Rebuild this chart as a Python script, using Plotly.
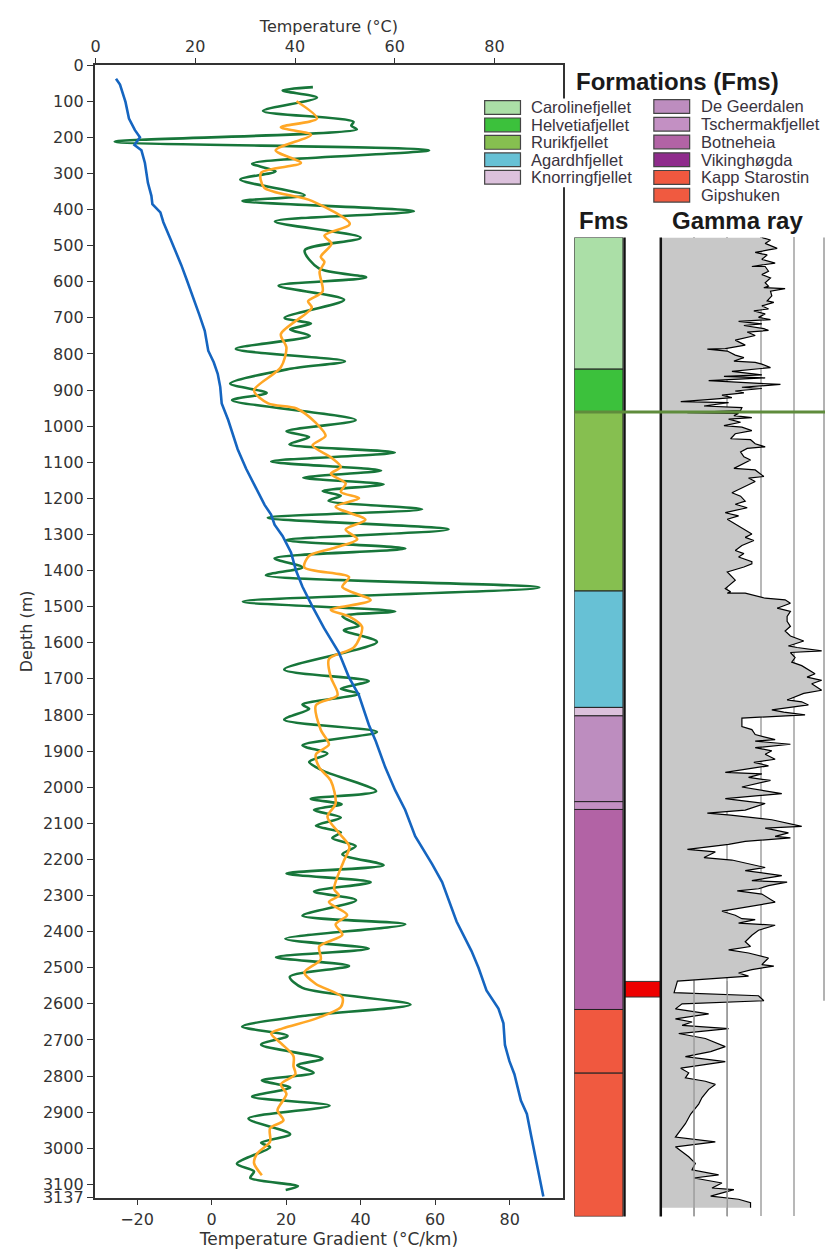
import plotly.graph_objects as go

# ---- temperature log (top axis, deg C) ----
temp_depth = [38, 54, 102, 148, 180, 200, 221, 236, 271, 326, 362, 385, 408, 435, 481, 517,
              554, 595, 636, 691, 736, 791, 823, 855, 891, 937, 983, 1064, 1118, 1173, 1218,
              1245, 1273, 1304, 1350, 1400, 1445, 1500, 1559, 1627, 1695, 1745, 1827, 1873,
              1945, 2009, 2063, 2136, 2213, 2263, 2372, 2454, 2500, 2563, 2613, 2654, 2714,
              2759, 2795, 2868, 2905, 2968, 3032, 3077, 3134]
temp_c = [4.1, 4.9, 6.0, 6.7, 7.9, 8.9, 7.8, 9.2, 9.9, 10.5, 11.2, 11.4, 13.0, 13.6, 15.0, 16.1,
          17.2, 18.3, 19.4, 20.8, 21.9, 22.6, 23.7, 24.5, 25.0, 25.3, 26.6, 28.5, 30.2, 32.2, 33.9,
          35.2, 35.9, 37.5, 39.2, 40.2, 41.5, 43.5, 45.8, 48.8, 50.8, 52.8, 54.8, 56.2,
          58.1, 60.1, 62.1, 64.1, 67.5, 69.5, 72.4, 75.4, 76.8, 78.4, 80.8, 81.8, 82.1,
          83.0, 84.0, 85.3, 86.5, 87.4, 88.3, 88.9, 89.8]

# ---- temperature gradient (bottom axis, deg C/km) ----
grad_depth = [61, 70, 90, 127, 157, 168, 178, 212, 236, 273, 294, 317, 360, 376, 405, 433, 478,
              513, 563, 588, 611, 650, 700, 716, 732, 750, 786, 820, 841, 882, 908, 928, 983,
              1014, 1030, 1050, 1073, 1098, 1123, 1143, 1161, 1180, 1193, 1207, 1230, 1254,
              1286, 1316, 1339, 1366, 1391, 1413, 1447, 1486, 1513, 1527, 1553, 1565, 1598,
              1674, 1706, 1727, 1741, 1771, 1783, 1813, 1847, 1884, 1907, 1930, 1954, 2011,
              2032, 2047, 2063, 2084, 2107, 2125, 2141, 2163, 2186, 2216, 2239, 2263, 2289,
              2313, 2356, 2380, 2420, 2447, 2471, 2495, 2525, 2556, 2602, 2634, 2663, 2689,
              2713, 2752, 2770, 2791, 2812, 2832, 2857, 2882, 2918, 2961, 2985, 2997, 3043,
              3064, 3082, 3105, 3116]
grad = [27.2, 19.1, 28.3, 13.8, 38.1, 37.5, 39.0, -26.0, 58.4, 10.9, 17.2, 7.7, 25.0, 8.3, 54.3,
        17.0, 40.0, 25.0, 28.8, 41.5, 18.0, 35.6, 19.6, 26.7, 21.1, 26.4, 6.5, 35.8, 21.1, 5.0,
        14.8, 5.5, 38.7, 20.1, 26.2, 20.9, 49.2, 16.0, 45.5, 24.6, 46.2, 29.8, 34.7, 31.4, 56.5,
        15.1, 63.6, 20.1, 52.0, 16.9, 24.4, 14.6, 88.0, 8.4, 49.3, 35.1, 39.5, 35.5, 44.4,
        19.5, 42.2, 34.7, 39.6, 24.4, 26.2, 19.5, 44.4, 24.4, 31.1, 26.2, 29.8, 44.2,
        26.6, 34.9, 27.5, 34.7, 28.0, 34.7, 32.4, 38.7, 35.1, 46.2, 20.1, 42.7, 27.5,
        38.8, 24.4, 52.0, 19.8, 42.2, 17.3, 36.9, 21.0, 24.4, 53.4, 24.4, 8.2, 20.4,
        13.3, 29.8, 23.0, 27.4, 13.5, 21.1, 10.9, 31.7, 9.9, 21.1, 13.3, 15.7, 6.8,
        11.4, 10.4, 23.2, 19.9]

# ---- smoothed gradient ----
smooth_depth = [100, 148, 172, 193, 236, 271, 298, 339, 376, 440, 472, 495, 531, 545, 572, 627,
                654, 672, 745, 782, 837, 901, 937, 951, 991, 1027, 1053, 1086, 1113, 1132, 1159,
                1182, 1200, 1223, 1259, 1286, 1313, 1336, 1359, 1391, 1418, 1445, 1482, 1509,
                1527, 1556, 1613, 1645, 1695, 1745, 1773, 1841, 1882, 1909, 1945, 1982, 2045,
                2082, 2127, 2165, 2204, 2282, 2300, 2318, 2354, 2380, 2409, 2441, 2477, 2513,
                2545, 2582, 2609, 2641, 2668, 2682, 2709, 2745, 2773, 2795, 2823, 2850, 2895,
                2923, 2945, 2982, 3014, 3041, 3075]
smooth_grad = [22.8, 28.3, 18.6, 26.7, 17.2, 24.0, 13.3, 14.1, 26.9, 37.1, 30.3, 32.2, 29.3, 30.3,
               29.0, 29.8, 25.9, 26.9, 18.6, 20.1, 18.6, 11.4, 15.2, 22.8, 28.0, 30.6, 27.1, 32.0,
               34.7, 32.0, 36.0, 34.7, 39.6, 33.3, 41.3, 36.0, 39.1, 33.3, 26.2, 24.9, 36.9, 35.1,
               42.7, 32.0, 36.9, 40.4, 38.2, 31.5, 32.0, 33.8, 28.0, 29.3, 31.5, 28.0, 28.9, 32.0,
               33.3, 31.1, 34.2, 37.0, 35.5, 32.9, 34.2, 31.5, 36.4, 33.3, 35.1, 28.9, 29.3, 24.9,
               28.0, 35.1, 34.7, 28.0, 19.1, 16.0, 18.6, 22.0, 22.0, 22.5, 18.6, 20.1, 17.7,
               19.3, 15.7, 15.7, 12.3, 11.4, 13.5]

# ---- gamma ray log (right track, track depth scale) ----
gr_depth = [0, 8, 19, 35, 40, 48, 56, 70, 82, 93, 93, 108, 119, 130, 145, 156, 161, 164, 172, 187,
            203, 208, 219, 229, 235, 245, 256, 263, 269, 277, 282, 292, 298, 303, 314, 322, 329,
            345, 350, 356, 358, 364, 377, 385, 396, 400, 406, 417, 429, 440, 445, 450, 459, 466,
            471, 480, 484, 492, 498, 505, 513, 519, 526, 529, 540, 545, 555, 561, 564,
            571, 577, 582, 592, 603, 608, 619, 629, 645, 648, 661, 671, 676, 687, 703, 713, 740,
            745, 766, 771, 782, 797, 818, 829, 845, 855, 866, 882, 892, 903, 918, 934, 950, 961,
            971, 987, 1003, 1013, 1024, 1039,
            1046, 1056, 1072, 1098, 1125, 1135, 1140, 1140, 1149, 1156, 1161, 1172, 1188, 1198,
            1214, 1230, 1246, 1261, 1277, 1293, 1309, 1314, 1325, 1330, 1346, 1361, 1372, 1398,
            1409, 1419, 1430, 1451, 1461, 1482, 1488, 1498, 1514, 1521, 1530, 1535, 1540, 1567,
            1577, 1593, 1609, 1614, 1624, 1635, 1645, 1656, 1672, 1682, 1693, 1714, 1719, 1730,
            1740, 1761, 1782, 1798, 1814, 1835, 1845, 1851, 1861, 1866, 1887, 1893, 1908, 1919,
            1924, 1935, 1945, 1961, 1969, 1987, 1995, 2019, 2029, 2045, 2061, 2066, 2077, 2087,
            2094, 2104, 2130, 2141, 2159, 2172, 2183, 2186, 2197, 2204, 2220, 2236, 2257, 2272,
            2283, 2293, 2309, 2330, 2335, 2346, 2357, 2367, 2378, 2383, 2420, 2430, 2446, 2456,
            2472, 2488, 2504, 2514, 2525, 2535, 2551, 2567, 2593, 2609, 2625, 2641, 2662, 2677,
            2693, 2704, 2714, 2730, 2756, 2777, 2809, 2840, 2883, 2898, 2914, 2946, 2967, 2988,
            3004, 3014, 3030, 3046, 3051, 3072, 3082, 3093, 3109]
gr_api = [152, 165, 157, 175, 162, 142, 160, 152, 172, 137, 157, 162, 152, 165, 157, 162, 155, 187,
          165, 167, 160, 170, 152, 162, 140, 157, 147, 165, 117, 152, 125, 155, 162, 130, 142, 125,
          112, 127, 110, 97, 70, 100, 112, 125, 110, 142, 152, 165, 107, 152, 95, 157, 72, 142,
          180, 122, 152, 112, 125, 92, 107, 75, 30, 102, 65, 122, 120, 40, 117,
          110, 137, 102, 120, 95, 122, 137, 112, 105, 135, 142, 157, 130, 120, 125, 135, 110,
          142, 155, 132, 142, 127, 107, 120, 127, 112, 130, 97, 117, 100, 112, 125, 137, 127,
          140, 122, 112, 125, 117, 137,
          137, 125, 100, 112, 97, 105, 100, 127, 142, 157, 187, 195, 175, 195,
          190, 190, 195, 187, 195, 215, 192, 205, 242, 195, 202, 197, 212, 232,
          220, 242, 227, 242, 215, 190, 212, 222, 167, 185, 217, 170, 122, 122,
          137, 142, 172, 142, 195, 142, 167, 157, 172, 140, 162, 97, 152, 132,
          165, 122, 182, 97, 157, 127, 70, 105, 152, 167, 212, 157, 192, 172,
          195, 127, 102, 40, 82, 65, 107, 157, 127, 182, 137, 190, 162, 147,
          115, 152, 172, 142, 92, 112, 122, 142, 117, 172, 147, 137, 127, 135,
          102, 132, 162, 152, 170, 137, 117, 132, 67, 25, 20, 147, 155, 32,
          22, 72, 22, 47, 32, 102, 27, 67, 97, 75, 37, 97, 30, 42,
          37, 67, 82, 72, 62, 57, 45, 37, 22, 82, 22, 42, 52, 47,
          87, 50, 92, 77, 110, 75, 117, 135, 135]

# ---- formations ----
fm_names = ["Carolinefjellet", "Helvetiafjellet", "Rurikfjellet", "Agardhfjellet", "Knorringfjellet",
            "De Geerdalen", "Tschermakfjellet", "Botneheia", "Vikinghøgda", "Kapp Starostin", "Gipshuken"]
fm_colors = ["#abdfa7", "#3cc13c", "#86bf50", "#67c1d5", "#dcc1dc",
             "#bd8dbf", "#c390c3", "#b263a5", "#8f2b8c", "#f0583f", "#f05a40"]
col_fm = ["Carolinefjellet", "Helvetiafjellet", "Rurikfjellet", "Agardhfjellet", "Knorringfjellet",
          "De Geerdalen", "Tschermakfjellet", "Botneheia", "Kapp Starostin", "Gipshuken"]
col_top = [0, 422, 559, 1133, 1506, 1533, 1808, 1833, 2474, 2678]
col_base = [422, 559, 1133, 1506, 1533, 1808, 1833, 2474, 2678, 3137]
marker_top, marker_base = 2384, 2434

W, H = 825, 1252
def fx(p):
    return p / W
def fy(p):
    return 1 - p / H

AX = "DejaVu Sans"
LEG = "Liberation Sans"
fig = go.Figure()

fig.add_trace(go.Scatter(x=grad, y=grad_depth, mode="lines", line=dict(color="#17763a", width=2.6, shape="spline", smoothing=0.8),
                         xaxis="x", yaxis="y", hoverinfo="skip"))
fig.add_trace(go.Scatter(x=smooth_grad, y=smooth_depth, mode="lines", line=dict(color="#ffa726", width=2.6, shape="spline", smoothing=0.8),
                         xaxis="x", yaxis="y", hoverinfo="skip"))
fig.add_trace(go.Scatter(x=temp_c, y=temp_depth, mode="lines", line=dict(color="#1565c0", width=2.6),
                         xaxis="x2", yaxis="y", hoverinfo="skip"))

# formation column
color_of = dict(zip(fm_names, fm_colors))
fig.add_trace(go.Bar(x=[0.5] * len(col_fm), y=[b - t for t, b in zip(col_top, col_base)], base=col_top,
                     width=1, marker=dict(color=[color_of[f] for f in col_fm], line=dict(color="#222", width=1)),
                     xaxis="x3", yaxis="y3", hoverinfo="skip"))
fig.add_trace(go.Bar(x=[0.5], y=[marker_base - marker_top], base=[marker_top], width=1,
                     marker=dict(color="#ee0000", line=dict(color="#333", width=1)),
                     xaxis="x4", yaxis="y3", hoverinfo="skip"))
fig.add_trace(go.Scatter(x=gr_api, y=gr_depth, mode="lines", fill="tozerox", fillcolor="#c8c8c8",
                         line=dict(color="black", width=1.2), xaxis="x5", yaxis="y3", hoverinfo="skip"))

tick_d = list(range(0, 3101, 100)) + [3137]
fig.update_layout(
    width=W, height=H, margin=dict(l=0, r=0, t=0, b=0), showlegend=False,
    plot_bgcolor="white", paper_bgcolor="white", barmode="overlay",
    font=dict(family=AX, color="#333", size=15),
    xaxis=dict(domain=[fx(91), fx(562)], range=[-31.4, 94.4], anchor="y",
               tickvals=[-20, 0, 20, 40, 60, 80], ticktext=["\u221220", "0", "20", "40", "60", "80"],
               ticks="outside", ticklen=6, tickcolor="#333", showline=True, linecolor="#333", linewidth=1.5,
               mirror=True, showgrid=False, zeroline=False, tickfont=dict(size=16),
               title=dict(text="Temperature Gradient (°C/km)", font=dict(size=17), standoff=4)),
    xaxis2=dict(overlaying="x", side="top", anchor="y", range=[-0.2, 93.8], tickvals=[0, 20, 40, 60, 80],
                ticks="outside", ticklen=6, tickcolor="#333", showline=False, showgrid=False, zeroline=False,
                tickfont=dict(size=16), title=dict(text="Temperature (°C)", font=dict(size=16), standoff=0)),
    yaxis=dict(domain=[fy(1207), fy(57)], range=[3137, 0], anchor="x", tickvals=tick_d,
               ticks="outside", ticklen=6, tickcolor="#333", showline=True, linecolor="#333", linewidth=1.5,
               mirror=True, showgrid=False, zeroline=False, tickfont=dict(size=16),
               title=dict(text="Depth (m)", font=dict(size=16), standoff=6)),
    xaxis3=dict(domain=[fx(573), fx(622)], range=[0, 1], anchor="y3", visible=False),
    xaxis4=dict(domain=[fx(624), fx(660)], range=[0, 1], anchor="y3", visible=False),
    xaxis5=dict(domain=[fx(660), 1.0], range=[0, 247], anchor="y3", showticklabels=False, ticks="",
                tickvals=[50, 100, 150, 200], showgrid=True, gridcolor="#b8b8b8", gridwidth=1.6,
                zeroline=False, showline=False),
    yaxis3=dict(domain=[fy(1226), fy(232)], range=[3137, 0], anchor="x3", visible=False),
)

shapes = []
# grid lines showing through the fill in the lower part of the gamma track
for g in [50, 100]:
    shapes.append(dict(type="line", xref="x5", yref="paper", x0=g, x1=g, y0=fy(1226), y1=fy(987),
                       line=dict(color="#9a9a9a", width=1.4), layer="above"))
# track borders
shapes.append(dict(type="line", xref="paper", yref="paper", x0=fx(623.5), x1=fx(623.5), y0=fy(1226), y1=fy(232),
                   line=dict(color="#111", width=2.5)))
shapes.append(dict(type="line", xref="paper", yref="paper", x0=fx(660), x1=fx(660), y0=fy(1226), y1=fy(232),
                   line=dict(color="#111", width=2.5), layer="above"))
shapes.append(dict(type="line", xref="paper", yref="paper", x0=fx(824), x1=fx(824), y0=fy(1007), y1=fy(232),
                   line=dict(color="#999", width=1.5)))
# marker line at base of Helvetiafjellet
shapes.append(dict(type="line", xref="paper", yref="y3", x0=fx(573), x1=1.0,
                   y0=col_base[1], y1=col_base[1], line=dict(color="#5f8c3c", width=3), layer="above"))

# legend boxes
shapes.append(dict(type="rect", xref="paper", yref="paper", x0=fx(480), x1=fx(641), y0=fy(181), y1=fy(91),
                   fillcolor="white", line=dict(width=0), layer="above"))
shapes.append(dict(type="rect", xref="paper", yref="paper", x0=fx(650), x1=1.0, y0=fy(199), y1=fy(89),
                   fillcolor="white", line=dict(width=0), layer="above"))
annotations = []
for i, (name, col) in enumerate(zip(fm_names, fm_colors)):
    if i < 5:
        xs, xt, yc = 483, 528, 100 + i * 17.7
    else:
        xs, xt, yc = 653, 698, 99 + (i - 5) * 18
    shapes.append(dict(type="rect", xref="paper", yref="paper", x0=fx(xs), x1=fx(xs + 36), y0=fy(yc + 7), y1=fy(yc - 7),
                       fillcolor=col, line=dict(color="#444", width=1.2), layer="above"))
    annotations.append(dict(xref="paper", yref="paper", x=fx(xt), y=fy(yc), text=name, showarrow=False,
                            xanchor="left", yanchor="middle", font=dict(family=LEG, size=16.5, color="#3a3340")))

annotations.append(dict(xref="paper", yref="paper", x=fx(677), y=fy(74), text="<b>Formations (Fms)</b>", showarrow=False,
                        xanchor="center", yanchor="middle", font=dict(family=LEG, size=24, color="#1a1a1a")))
annotations.append(dict(xref="paper", yref="paper", x=fx(602), y=fy(215), text="<b>Fms</b>", showarrow=False,
                        xanchor="center", yanchor="middle", font=dict(family=LEG, size=24, color="#1a1a1a")))
annotations.append(dict(xref="paper", yref="paper", x=fx(737), y=fy(215), text="<b>Gamma ray</b>", showarrow=False,
                        xanchor="center", yanchor="middle", font=dict(family=LEG, size=24, color="#1a1a1a")))

fig.update_layout(shapes=shapes, annotations=annotations)

fig.write_html("out.html", config={"displayModeBar": False},
               post_script="document.body.style.margin='0';document.body.style.overflow='hidden';")
